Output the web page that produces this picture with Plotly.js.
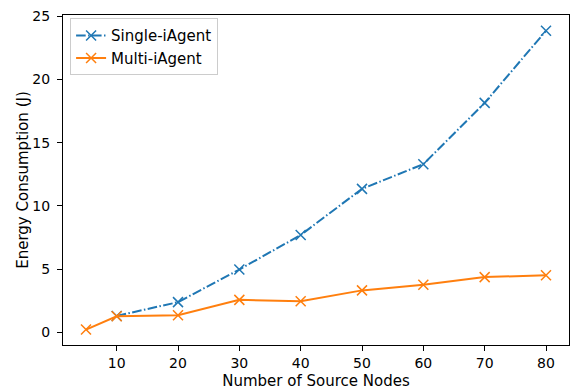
<!DOCTYPE html>
<html>
<head>
<meta charset="utf-8">
<script src="https://cdn.plot.ly/plotly-3.0.1.min.js"></script>
<style>html,body{margin:0;padding:0;background:#fff;}#chart{width:570px;height:390px;}</style>
</head>
<body>
<div id="chart"></div>
<script>
const singleX = [10, 20, 30, 40, 50, 60, 70, 80];
const singleY = [1.3, 2.39, 4.97, 7.7, 11.35, 13.3, 18.15, 23.85];
const multiX = [5, 10, 20, 30, 40, 50, 60, 70, 80];
const multiY = [0.22, 1.27, 1.35, 2.57, 2.46, 3.32, 3.76, 4.37, 4.52];
const xTicks = [10, 20, 30, 40, 50, 60, 70, 80];
const yTicks = [0, 5, 10, 15, 20, 25];
const seriesNames = ["Single-iAgent", "Multi-iAgent"];

const font = "DejaVu Sans, sans-serif";
const traces = [
  {x: singleX, y: singleY, name: seriesNames[0], mode: "lines+markers",
   line: {color: "#1f77b4", width: 2, dash: "9.6px,2.4px,1.5px,2.4px"},
   marker: {symbol: "x-thin-open", size: 10, line: {color: "#1f77b4", width: 1.5}}},
  {x: multiX, y: multiY, name: seriesNames[1], mode: "lines+markers",
   line: {color: "#ff7f0e", width: 2},
   marker: {symbol: "x-thin-open", size: 10, line: {color: "#ff7f0e", width: 1.5}}}
];
const axisBase = {showline: true, linecolor: "#000", linewidth: 1, mirror: true,
  ticks: "outside", ticklen: 5, tickcolor: "#000", showgrid: false, zeroline: false,
  tickfont: {family: font, size: 14, color: "#000"}};
const layout = {
  width: 570, height: 390,
  margin: {l: 63, r: 1, t: 15, b: 45},
  paper_bgcolor: "#fff", plot_bgcolor: "#fff",
  font: {family: font, color: "#000"},
  xaxis: Object.assign({}, axisBase, {range: [1.25, 83.75], tickvals: xTicks,
    title: {text: "Number of Source Nodes", font: {family: font, size: 15}, standoff: 5}}),
  yaxis: Object.assign({}, axisBase, {range: [-1.0, 25.1], tickvals: yTicks, ticklabelstandoff: 4,
    title: {text: "Energy Consumption (J)", font: {family: font, size: 15}, standoff: 0}}),
  legend: {x: 0.014, y: 0.99, xanchor: "left", yanchor: "top",
    bgcolor: "rgba(255,255,255,0.8)", bordercolor: "#cccccc", borderwidth: 1,
    font: {family: font, size: 15}, itemwidth: 30, tracegroupgap: 0},
  showlegend: true
};
Plotly.newPlot("chart", traces, layout, {staticPlot: true, displayModeBar: false});
</script>
</body>
</html>
